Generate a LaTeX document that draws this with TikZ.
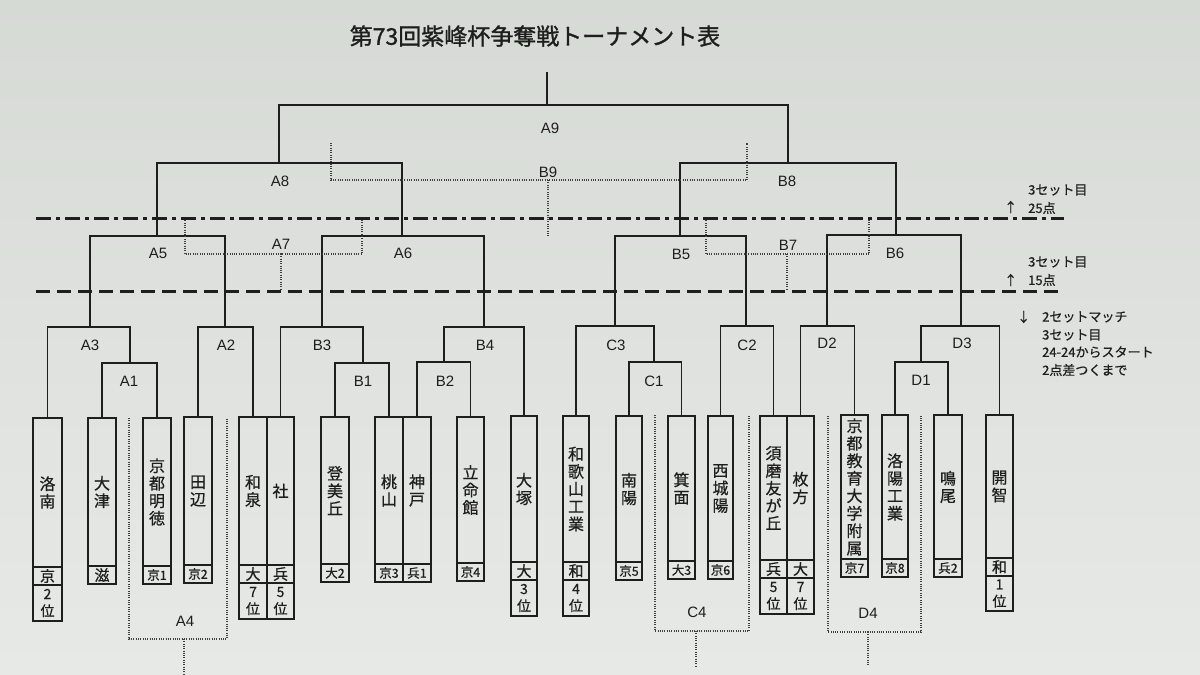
\documentclass[tikz,border=0pt]{standalone}
\usepackage{fontspec}
\setmainfont{Liberation Sans}
\newfontfamily\cjk[FakeBold=0.6]{Noto Sans CJK JP}
\newfontfamily\cjkt[FakeBold=1.2]{Noto Sans CJK JP}
\definecolor{ink}{RGB}{30,30,30}
\definecolor{bgtop}{RGB}{214,218,213}
\definecolor{bgbot}{RGB}{231,233,230}
\newcommand\smalltag[1]{{\fontsize{12.5}{12.5}\selectfont #1}}
\tikzset{
  br/.style={line width=1.6pt, draw=ink},
  bx/.style={line width=1.5pt, draw=ink},
  dotl/.style={line width=1.1pt, draw=ink!85, dash pattern=on 1pt off 1.3pt},
  lbl/.style={font=\fontsize{15}{15}\selectfont, text=ink, inner sep=0pt},
  nm/.style={font=\cjk\fontsize{16}{17.5}\selectfont, align=center, inner sep=0pt, text=ink},
  pf/.style={font=\cjk\fontsize{15}{15}\selectfont, inner sep=0pt, text=ink},
  rkst/.style={font=\cjk\fontsize{14}{17}\selectfont, align=center, inner sep=0pt, text=ink},
  lg/.style={font=\cjk\fontsize{13}{13}\selectfont, anchor=west, inner sep=0pt, text=ink},
  ttl/.style={font=\cjkt\fontsize{23}{23}\selectfont, inner sep=0pt, text=ink},
  ddash/.style={line width=3pt, draw=ink, dash pattern=on 15pt off 5pt on 4pt off 5pt},
  tdash/.style={line width=3pt, draw=ink, dash pattern=on 14pt off 7pt},
}
% #1 id, #2 xl, #3 xr, #4 top, #5 name bottom, #6 pref bottom, #7 name, #8 pref
\newcommand\teambox[8]{%
  \draw[bx] (#2,#4) rectangle (#3,#6);
  \draw[bx] (#2,#5) -- (#3,#5);
  \node[nm] (#1) at ({(#2+#3)/2},{(#4+#5)/2}) {#7};
  \node[pf] (#1p) at ({(#2+#3)/2},{(#5+#6)/2}) {#8};
  \coordinate (#1t) at ({(#2+#3)/2},#4);
}
% #1 id, #2 xl, #3 xr, #4 top, #5 bottom, #6 text
\newcommand\rankbox[6]{%
  \draw[bx] (#2,#4) rectangle (#3,#5);
  \node[rkst] (#1) at ({(#2+#3)/2},{(#4+#5)/2}) {#6};
}
\begin{document}
\begin{tikzpicture}[x=1pt,y=-1pt]
\useasboundingbox (0,0) rectangle (1200,675);
\shade[top color=bgtop, bottom color=bgbot] (0,0) rectangle (1200,675);

\node[ttl] (title) at (535,36) {第73回紫峰杯争奪戦トーナメント表};

% teams
\teambox{t1}{33}{62}{418}{567}{585}{洛\\南}{京}
\rankbox{r1}{33}{62}{585}{621}{2\\位}
\teambox{t2}{88}{116}{418}{566}{584}{大\\津}{滋}
\teambox{t3}{143}{171}{418}{566}{584}{京\\都\\明\\徳}{\smalltag{京1}}
\teambox{t4}{184}{212}{417}{565}{583}{田\\辺}{\smalltag{京2}}
\teambox{t5}{239}{267}{417}{565}{583}{和\\泉}{大}
\rankbox{r5}{239}{267}{583}{619}{7\\位}
\teambox{t6}{267}{294}{417}{565}{583}{社}{兵}
\rankbox{r6}{267}{294}{583}{619}{5\\位}
\teambox{t7}{321}{349}{417}{564}{582}{登\\美\\丘}{\smalltag{大2}}
\teambox{t8}{375}{403}{417}{564}{582}{桃\\山}{\smalltag{京3}}
\teambox{t9}{403}{431}{417}{564}{582}{神\\戸}{\smalltag{兵1}}
\teambox{t10}{457}{484}{417}{563}{581}{立\\命\\館}{\smalltag{京4}}
\teambox{t11}{511}{537}{416}{562}{580}{大\\塚}{大}
\rankbox{r11}{511}{537}{580}{616}{3\\位}
\teambox{t12}{563}{589}{416}{562}{580}{和\\歌\\山\\工\\業}{和}
\rankbox{r12}{563}{589}{580}{616}{4\\位}
\teambox{t13}{616}{642}{416}{562}{580}{南\\陽}{\smalltag{京5}}
\teambox{t14}{668}{695}{416}{561}{579}{箕\\面}{\smalltag{大3}}
\teambox{t15}{708}{733}{416}{561}{579}{西\\城\\陽}{\smalltag{京6}}
\teambox{t16}{760}{787}{416}{560}{578}{須\\磨\\友\\が\\丘}{兵}
\rankbox{r16}{760}{787}{578}{614}{5\\位}
\teambox{t17}{787}{814}{416}{560}{578}{枚\\方}{大}
\rankbox{r17}{787}{814}{578}{614}{7\\位}
\teambox{t18}{841}{868}{415}{559}{577}{京\\都\\教\\育\\大\\学\\附\\属}{\smalltag{京7}}
\teambox{t19}{882}{908}{415}{559}{577}{洛\\陽\\工\\業}{\smalltag{京8}}
\teambox{t20}{934}{962}{415}{559}{577}{鳴\\尾}{\smalltag{兵2}}
\teambox{t21}{986}{1013}{415}{558}{576}{開\\智}{和}
\rankbox{r21}{986}{1013}{576}{611}{1\\位}

% match points
\coordinate (A9) at (547,105);
\coordinate (top) at (547,72);
\coordinate (A8) at (279,163);
\coordinate (B8) at (788,163);
\coordinate (A5) at (157,236);
\coordinate (A6) at (402,236);
\coordinate (B5) at (680,236);
\coordinate (B6) at (896,235);
\coordinate (A3) at (90,327);
\coordinate (A2) at (225,327);
\coordinate (B3) at (322,327);
\coordinate (B4) at (484,327);
\coordinate (C3) at (615,326);
\coordinate (C2) at (746,326);
\coordinate (D2) at (827,326);
\coordinate (D3) at (961,326);
\coordinate (A1) at (130,363);
\coordinate (B1) at (363,363);
\coordinate (B2) at (444,362);
\coordinate (C1) at (654,362);
\coordinate (D1) at (921,362);

% brackets
\draw[br] (A9) -- (top);
\draw[br] (A8) |- (A9) -| (B8);
\draw[br] (A5) |- (A8) -| (A6);
\draw[br] (B5) |- (B8) -| (B6);
\draw[br] (A3) |- (A5) -| (A2);
\draw[br] (B3) |- (A6) -| (B4);
\draw[br] (C3) |- (B5) -| (C2);
\draw[br] (D2) |- (B6) -| (D3);
\draw[br] (t1t) |- (A3) -| (A1);
\draw[br] (t2t) |- (A1) -| (t3t);
\draw[br] (t4t) |- (A2) -| (t5t);
\draw[br] (t6t) |- (B3) -| (B1);
\draw[br] (t7t) |- (B1) -| (t8t);
\draw[br] (B2) |- (B4) -| (t11t);
\draw[br] (t9t) |- (B2) -| (t10t);
\draw[br] (t12t) |- (C3) -| (C1);
\draw[br] (t13t) |- (C1) -| (t14t);
\draw[br] (t15t) |- (C2) -| (t16t);
\draw[br] (t17t) |- (D2) -| (t18t);
\draw[br] (D1) |- (D3) -| (t21t);
\draw[br] (t19t) |- (D1) -| (t20t);

% dotted consolation brackets
\coordinate (B9) at (548,180);
\draw[dotl] (331,143) |- (B9) -| (747,143);
\draw[dotl] (B9) -- (548,236);
\coordinate (A7) at (281,254);
\draw[dotl] (185,218) |- (A7) -| (362,218);
\draw[dotl] (A7) -- (281,290);
\coordinate (B7) at (787,254);
\draw[dotl] (706,218) |- (B7) -| (869,218);
\draw[dotl] (B7) -- (787,290);
\coordinate (A4) at (184,639);
\draw[dotl] (129,418) |- (A4) -| (227,418);
\draw[dotl] (A4) -- (184,675);
\coordinate (C4) at (696,631);
\draw[dotl] (655,415) |- (C4) -| (749,415);
\draw[dotl] (C4) -- (696,666);
\coordinate (D4) at (868,632);
\draw[dotl] (828,416) |- (D4) -| (921,416);
\draw[dotl] (D4) -- (868,666);

% thick boundary lines
\draw[ddash] (36,218) -- (1064,218);
\draw[tdash] (36,291) -- (1064,291);

% labels
\node[lbl] (lA9) at (550,128) {A9};
\node[lbl] (lA8) at (280,181) {A8};
\node[lbl] (lB8) at (787,181) {B8};
\node[lbl] (lB9) at (548,172) {B9};
\node[lbl] (lA5) at (158,253) {A5};
\node[lbl] (lA6) at (403,253) {A6};
\node[lbl] (lA7) at (281,244) {A7};
\node[lbl] (lB5) at (681,254) {B5};
\node[lbl] (lB6) at (895,253) {B6};
\node[lbl] (lB7) at (788,245) {B7};
\node[lbl] (lA3) at (90,345) {A3};
\node[lbl] (lA1) at (129,381) {A1};
\node[lbl] (lA2) at (226,345) {A2};
\node[lbl] (lB3) at (322,345) {B3};
\node[lbl] (lB1) at (363,381) {B1};
\node[lbl] (lB2) at (445,381) {B2};
\node[lbl] (lB4) at (485,345) {B4};
\node[lbl] (lC3) at (616,345) {C3};
\node[lbl] (lC1) at (654,381) {C1};
\node[lbl] (lC2) at (747,345) {C2};
\node[lbl] (lD2) at (827,343) {D2};
\node[lbl] (lD1) at (921,380) {D1};
\node[lbl] (lD3) at (962,343) {D3};
\node[lbl] (lA4) at (185,621) {A4};
\node[lbl] (lC4) at (697,612) {C4};
\node[lbl] (lD4) at (868,613) {D4};

% legend
\node[lg] (g1) at (1028,190) {3セット目};
\node[lg] (g1a) at (1004,207) {↑};
\node[lg] (g1b) at (1028,208) {25点};
\node[lg] (g2) at (1028,262) {3セット目};
\node[lg] (g2a) at (1004,280) {↑};
\node[lg] (g2b) at (1028,280) {15点};
\node[lg] (g3a) at (1017,317) {↓};
\node[lg] (g3) at (1042,317) {2セットマッチ};
\node[lg] (g4) at (1042,335) {3セット目};
\node[lg] (g5) at (1042,352) {24-24からスタート};
\node[lg] (g6) at (1042,370) {2点差つくまで};
\end{tikzpicture}
\end{document}
